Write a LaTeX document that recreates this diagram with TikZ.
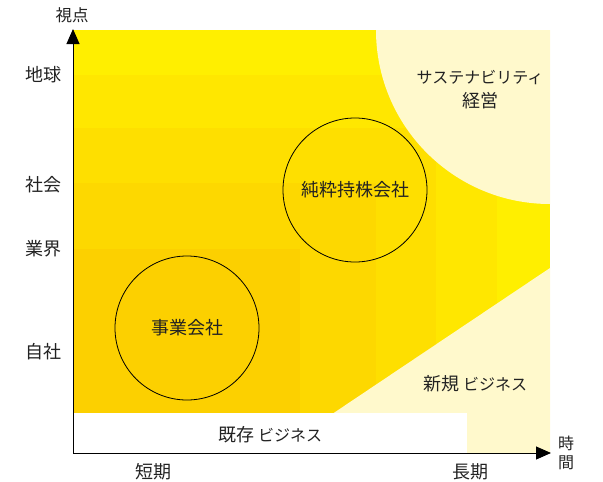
\documentclass[tikz,border=0pt]{standalone}
\usepackage{fontspec}
\setmainfont{Noto Sans CJK JP}
\usetikzlibrary{arrows.meta}
\definecolor{yA}{HTML}{FFEF00}
\definecolor{yB}{HTML}{FFE700}
\definecolor{yC}{HTML}{FEDF00}
\definecolor{yD}{HTML}{FDD800}
\definecolor{yE}{HTML}{FCD000}
\definecolor{cream}{HTML}{FFF9CC}
\definecolor{txt}{HTML}{222222}
\newcommand{\kana}[1]{{\fontsize{16}{19}\selectfont #1}}
\begin{document}
\begin{tikzpicture}[x=1pt,y=-1pt,
  lbl/.style={font=\fontsize{18}{21}\selectfont, text=txt, inner sep=0pt},
  circ/.style={circle, draw=black, line width=0.8pt, minimum size=144pt, inner sep=0pt, font=\fontsize{18}{21}\selectfont, text=txt},
  axis/.style={line width=1pt, -{Triangle[length=15pt,width=13pt]}}]
\useasboundingbox (0,0) rectangle (603,482);
% nested bands
\fill[yA] (73,30) rectangle (550,413);
\fill[yB] (73,75) rectangle (497,413);
\fill[yC] (73,128) rectangle (436,413);
\fill[yD] (73,183) rectangle (376,413);
\fill[yE] (73,249) rectangle (300,413);
% sustainability quarter disc
\fill[cream] (550,30) -- (376,30) arc[start angle=180, end angle=90, radius=174] -- cycle;
% new business triangle
\fill[cream] (274,453) -- (550,268) -- (550,453) -- cycle;
% existing business bar
\fill[white] (73,413) rectangle (467,453);
% axes
\coordinate (o) at (73,453);
\coordinate (ytip) at (73,29);
\coordinate (xtip) at (551,453);
\draw[axis] (o) -- (ytip);
\draw[axis] (o) -- (xtip);
% circles
\node[circ] (hd) at (355,190) {純粋持株会社};
\node[circ] (op) at (187,328) {事業会社};
% labels
\node[lbl, font=\fontsize{16.5}{19}\selectfont] (view) at (72,15) {視点};
\node[lbl] (earth) at (43,75) {地球};
\node[lbl] (soc) at (43,185) {社会};
\node[lbl] (ind) at (43,249) {業界};
\node[lbl] (self) at (43,352) {自社};
\node[lbl] (short) at (153,472) {短期};
\node[lbl] (long) at (470,472) {長期};
\node[lbl, align=center, font=\fontsize{16}{19}\selectfont] (time) at (566,453) {時\\間};
\node[lbl, align=center, font=\fontsize{18}{24}\selectfont] (sus) at (480,90) {\kana{サステナビリティ}\\経営};
\node[lbl] (newb) at (475,384) {新規\hspace{4pt}\kana{ビジネス}};
\node[lbl] (oldb) at (270,435) {既存\hspace{4pt}\kana{ビジネス}};
\end{tikzpicture}
\end{document}
